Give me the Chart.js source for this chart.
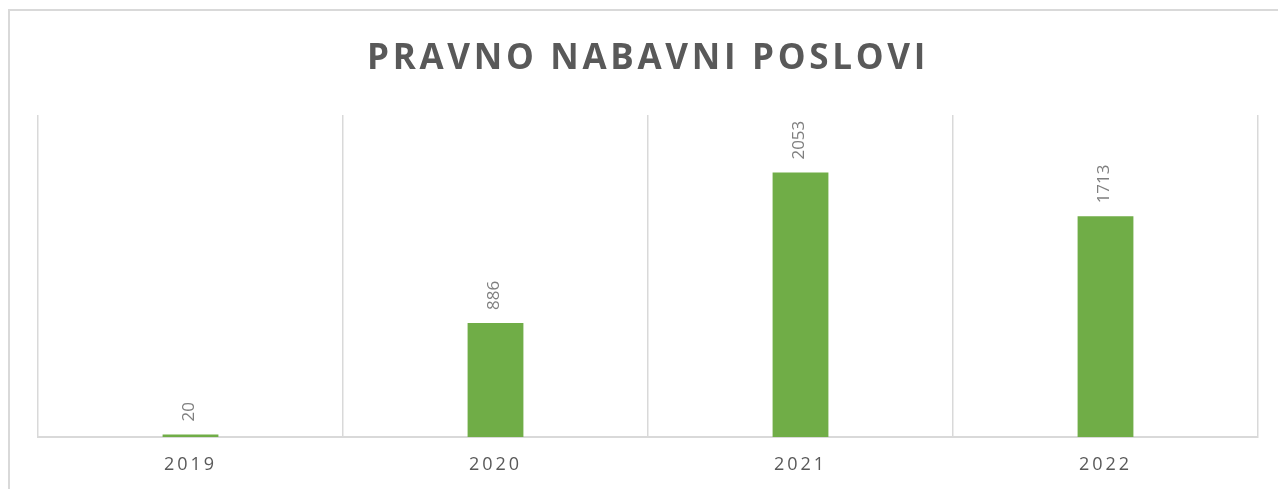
<!DOCTYPE html>
<html>
<head>
<meta charset="utf-8">
<script src="https://cdn.jsdelivr.net/npm/chart.js@4"></script>
<style>
    html, body { margin: 0; padding: 0; background: #fff; overflow: hidden; }
    #wrap { position: relative; width: 1278px; height: 489px; }
    #frame {
        position: absolute; left: 8px; top: 9px; width: 1290px; height: 500px;
        border: 2px solid #d9d9d9; box-sizing: border-box;
    }
    canvas { position: absolute; left: 0; top: 0; }
</style>
</head>
<body>
<div id="wrap">
    <div id="frame"></div>
    <canvas id="chart" width="1278" height="489"></canvas>
</div>
<script>
// Chart data
const years = ['2019', '2020', '2021', '2022'];
const poslovi = [20, 886, 2053, 1713];
const chartTitle = 'PRAVNO NABAVNI POSLOVI';

// letter spacing for title and category labels (canvas letterSpacing)
const spacingPlugin = {
    id: 'spacing',
    beforeDraw(chart) {
        const ctx = chart.ctx;
        const title = chart.titleBlock;
        if (title && !title._spaced) {
            const orig = title.draw;
            title.draw = function () {
                ctx.save();
                ctx.letterSpacing = '3.7px';
                orig.apply(this, arguments);
                ctx.restore();
            };
            title._spaced = true;
        }
        const x = chart.scales.x;
        if (x && !x._spaced) {
            const origLabels = x.drawLabels;
            x.drawLabels = function () {
                ctx.save();
                ctx.letterSpacing = '3px';
                origLabels.apply(this, arguments);
                ctx.restore();
            };
            x._spaced = true;
        }
    }
};

// vertical value labels above each bar
const valueLabels = {
    id: 'valueLabels',
    afterDatasetsDraw(chart) {
        const ctx = chart.ctx;
        const meta = chart.getDatasetMeta(0);
        ctx.save();
        ctx.font = '17px "Open Sans"';
        ctx.fillStyle = '#7f7f7f';
        ctx.textAlign = 'left';
        ctx.textBaseline = 'middle';
        meta.data.forEach((bar, i) => {
            ctx.save();
            ctx.translate(bar.x - 1, bar.y - 13);
            ctx.rotate(-Math.PI / 2);
            ctx.fillText(String(poslovi[i]), 0, 0);
            ctx.restore();
        });
        ctx.restore();
    }
};

new Chart(document.getElementById('chart'), {
    type: 'bar',
    data: {
        labels: years,
        datasets: [{
            data: poslovi,
            backgroundColor: '#70ad47',
            borderWidth: 0,
            categoryPercentage: 1,
            barPercentage: 0.183
        }]
    },
    options: {
        responsive: false,
        animation: false,
        layout: { padding: { left: 38, right: 20, top: 0, bottom: 0 } },
        plugins: {
            legend: { display: false },
            tooltip: { enabled: false },
            title: {
                display: true,
                text: chartTitle,
                color: '#595959',
                font: { family: 'Open Sans', size: 35, weight: 'bold' },
                padding: { top: 38, bottom: 35 }
            }
        },
        scales: {
            x: {
                afterFit(scale) { scale.height = 52; },
                grid: {
                    offset: true,
                    color: '#d9d9d9',
                    lineWidth: 1.5,
                    drawTicks: false
                },
                border: { color: '#d9d9d9', width: 2 },
                ticks: {
                    color: '#595959',
                    font: { family: 'Open Sans', size: 18 },
                    padding: 17
                }
            },
            y: {
                display: false,
                min: 0,
                max: 2500
            }
        }
    },
    plugins: [spacingPlugin, valueLabels]
});
</script>
</body>
</html>
